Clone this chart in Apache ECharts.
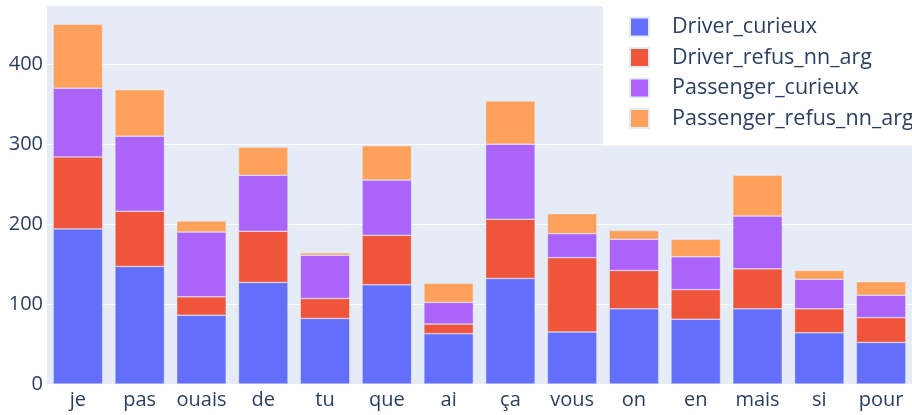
<!DOCTYPE html>
<html>
<head>
<meta charset="utf-8">
<script src="https://cdn.jsdelivr.net/npm/echarts@6/dist/echarts.min.js"></script>
<style>
  html, body { margin: 0; padding: 0; background: #fff; }
  #chart { width: 912px; height: 415px; }
</style>
</head>
<body>
<div id="chart"></div>
<script>
  // words on the x axis
  const words = ['je', 'pas', 'ouais', 'de', 'tu', 'que', 'ai', 'ça', 'vous', 'on', 'en', 'mais', 'si', 'pour']
  // counts per group
  const driverCurieux = [194, 147, 86, 127, 82, 124, 63, 132, 65, 94, 81, 94, 64, 52]
  const driverRefus = [90, 69, 23, 64, 25, 62, 12, 74, 93, 48, 37, 50, 30, 31]
  const passengerCurieux = [86, 94, 81, 70, 54, 69, 27, 94, 30, 39, 41, 66, 37, 28]
  const passengerRefus = [80, 58, 14, 35, 3, 43, 24, 54, 25, 11, 22, 51, 11, 17]

  const names = ['Driver_curieux', 'Driver_refus_nn_arg', 'Passenger_curieux', 'Passenger_refus_nn_arg']
  const colors = ['#636efa', '#ef553b', '#ab63fa', '#ffa15a']
  const values = [driverCurieux, driverRefus, passengerCurieux, passengerRefus]

  const font = '"Open Sans", verdana, arial, sans-serif'

  const chart = echarts.init(document.getElementById('chart'))
  chart.setOption({
    animation: false,
    textStyle: { fontFamily: font },
    color: colors,
    grid: {
      left: 47, right: 0, top: 5, bottom: 31,
      show: true, backgroundColor: '#e5ecf6', borderWidth: 0
    },
    legend: {
      orient: 'vertical',
      left: 603, top: 5,
      padding: [11, 6, 16, 26],
      backgroundColor: '#ffffff',
      itemWidth: 19, itemHeight: 19, itemGap: 8.5,
      icon: 'rect',
      textStyle: { color: '#2a3f5f', fontSize: 21.5, padding: [0, 0, 0, 18] },
      data: names
    },
    xAxis: {
      type: 'category',
      data: words,
      axisLine: { show: false },
      axisTick: { show: false },
      axisLabel: { color: '#2a3f5f', fontSize: 20, margin: 6, interval: 0 }
    },
    yAxis: {
      type: 'value',
      min: 0, max: 474, interval: 100,
      axisLine: { show: false },
      axisTick: { show: false },
      axisLabel: { color: '#2a3f5f', fontSize: 20, margin: 4, showMaxLabel: false },
      splitLine: { lineStyle: { color: '#ffffff', width: 1 } }
    },
    series: names.map((n, i) => ({
      name: n,
      type: 'bar',
      stack: 'all',
      barCategoryGap: '20%',
      data: values[i],
      itemStyle: { borderColor: '#e5ecf6', borderWidth: 0.5 }
    }))
  })
</script>
</body>
</html>
